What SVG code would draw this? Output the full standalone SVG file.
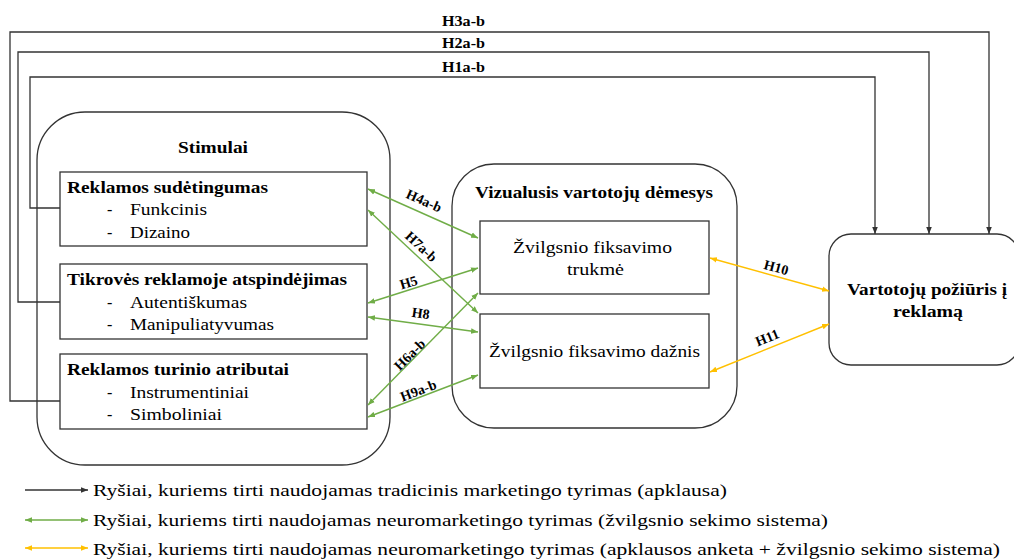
<svg xmlns="http://www.w3.org/2000/svg" width="1014" height="560" viewBox="0 0 1014 560">
<style>
text{font-family:"Liberation Serif","DejaVu Serif","Noto Serif",serif;fill:#000}
.b{font-weight:bold}
.t{font-size:16px}
.h{font-size:14px;font-weight:bold}
.lg{font-size:16.5px}
.box{fill:#fff;stroke:#333;stroke-width:1.3}
.grp{fill:#fff;stroke:#333;stroke-width:1.3}
.k{fill:none;stroke:#333;stroke-width:1.3}
.g{fill:none;stroke:#70AD47;stroke-width:1.4}
.y{fill:none;stroke:#FFC000;stroke-width:1.4}
</style>
<defs>
<marker id="ak" viewBox="0 0 10 10" refX="10" refY="5" markerWidth="7" markerHeight="7" markerUnits="userSpaceOnUse" orient="auto-start-reverse"><path d="M0,1 L10,5 L0,9 z" fill="#333"/></marker>
<marker id="ag" viewBox="0 0 10 10" refX="10" refY="5" markerWidth="7" markerHeight="7" markerUnits="userSpaceOnUse" orient="auto-start-reverse"><path d="M0,1 L10,5 L0,9 z" fill="#70AD47"/></marker>
<marker id="ay" viewBox="0 0 10 10" refX="10" refY="5" markerWidth="7" markerHeight="7" markerUnits="userSpaceOnUse" orient="auto-start-reverse"><path d="M0,1 L10,5 L0,9 z" fill="#FFC000"/></marker>
</defs>

<g id="stimulai">
<rect class="grp" x="37" y="112" width="353" height="353" rx="48"/>
<text class="t b" x="178" y="153" textLength="70" lengthAdjust="spacingAndGlyphs">Stimulai</text>
</g>
<g id="vizualusis">
<rect class="grp" x="452" y="164" width="285" height="264" rx="42"/>
<text class="t b" x="475" y="198" textLength="238" lengthAdjust="spacingAndGlyphs">Vizualusis vartotojų dėmesys</text>
</g>

<g id="reklamos-sudetingumas">
<rect class="box" x="60" y="172" width="307" height="74"/>
<text class="t b" x="67" y="193" textLength="201" lengthAdjust="spacingAndGlyphs">Reklamos sudėtingumas</text>
<text class="t" x="107" y="215">-</text><text class="t" x="130" y="215" textLength="77" lengthAdjust="spacingAndGlyphs">Funkcinis</text>
<text class="t" x="107" y="238">-</text><text class="t" x="130" y="238" textLength="60" lengthAdjust="spacingAndGlyphs">Dizaino</text>
</g>
<g id="tikroves">
<rect class="box" x="60" y="264" width="307" height="75"/>
<text class="t b" x="67" y="285" textLength="280" lengthAdjust="spacingAndGlyphs">Tikrovės reklamoje atspindėjimas</text>
<text class="t" x="107" y="308">-</text><text class="t" x="130" y="308" textLength="117" lengthAdjust="spacingAndGlyphs">Autentiškumas</text>
<text class="t" x="107" y="330">-</text><text class="t" x="130" y="330" textLength="144" lengthAdjust="spacingAndGlyphs">Manipuliatyvumas</text>
</g>
<g id="turinio-atributai">
<rect class="box" x="60" y="354" width="307" height="75"/>
<text class="t b" x="67" y="375" textLength="222" lengthAdjust="spacingAndGlyphs">Reklamos turinio atributai</text>
<text class="t" x="107" y="398">-</text><text class="t" x="130" y="398" textLength="119" lengthAdjust="spacingAndGlyphs">Instrumentiniai</text>
<text class="t" x="107" y="420">-</text><text class="t" x="130" y="420" textLength="92" lengthAdjust="spacingAndGlyphs">Simboliniai</text>
</g>

<g id="trukme">
<rect class="box" x="480" y="221" width="229" height="73"/>
<text class="t" x="513" y="253" textLength="159" lengthAdjust="spacingAndGlyphs">Žvilgsnio fiksavimo</text>
<text class="t" x="567" y="275" textLength="57" lengthAdjust="spacingAndGlyphs">trukmė</text>
</g>
<g id="daznis">
<rect class="box" x="480" y="314" width="229" height="74"/>
<text class="t" x="489" y="357" textLength="211" lengthAdjust="spacingAndGlyphs">Žvilgsnio fiksavimo dažnis</text>
</g>
<g id="poziuris">
<rect class="box" x="829" y="234" width="190" height="131" rx="22"/>
<text class="t b" x="847" y="295" textLength="160" lengthAdjust="spacingAndGlyphs">Vartotojų požiūris į</text>
<text class="t b" x="893" y="317" textLength="70" lengthAdjust="spacingAndGlyphs">reklamą</text>
</g>

<g id="connectors">
<path class="k" d="M60,208 H30 V77 H875 V234" marker-end="url(#ak)"/>
<path class="k" d="M60,302 H18 V52 H929 V234" marker-end="url(#ak)"/>
<path class="k" d="M60,401 H10 V32 H989 V234" marker-end="url(#ak)"/>
<text class="h" x="442" y="26" textLength="43" lengthAdjust="spacingAndGlyphs">H3a-b</text>
<text class="h" x="442" y="48" textLength="43" lengthAdjust="spacingAndGlyphs">H2a-b</text>
<text class="h" x="442" y="72" textLength="43" lengthAdjust="spacingAndGlyphs">H1a-b</text>

<line class="g" x1="368" y1="189" x2="478" y2="238" marker-start="url(#ag)" marker-end="url(#ag)"/>
<line class="g" x1="368" y1="210" x2="478" y2="313" marker-start="url(#ag)" marker-end="url(#ag)"/>
<line class="g" x1="368" y1="303" x2="478" y2="268" marker-start="url(#ag)" marker-end="url(#ag)"/>
<line class="g" x1="368" y1="317" x2="478" y2="332" marker-start="url(#ag)" marker-end="url(#ag)"/>
<line class="g" x1="368" y1="405" x2="478" y2="293" marker-start="url(#ag)" marker-end="url(#ag)"/>
<line class="g" x1="368" y1="417" x2="478" y2="375" marker-start="url(#ag)" marker-end="url(#ag)"/>
<text class="h" transform="translate(422,205) rotate(24)" text-anchor="middle">H4a-b</text>
<text class="h" transform="translate(418,250) rotate(43)" text-anchor="middle">H7a-b</text>
<text class="h" transform="translate(410,287) rotate(-17)" text-anchor="middle">H5</text>
<text class="h" transform="translate(420,318) rotate(8)" text-anchor="middle">H8</text>
<text class="h" transform="translate(413,358) rotate(-45)" text-anchor="middle">H6a-b</text>
<text class="h" transform="translate(420,395) rotate(-21)" text-anchor="middle">H9a-b</text>

<line class="y" x1="710" y1="258" x2="829" y2="291" marker-start="url(#ay)" marker-end="url(#ay)"/>
<line class="y" x1="710" y1="372" x2="829" y2="324" marker-start="url(#ay)" marker-end="url(#ay)"/>
<text class="h" transform="translate(775,272) rotate(15)" text-anchor="middle">H10</text>
<text class="h" transform="translate(769,342) rotate(-22)" text-anchor="middle">H11</text>
</g>

<g id="legend">
<line class="k" x1="25" y1="490" x2="88" y2="490" marker-end="url(#ak)"/>
<line class="g" x1="25" y1="520" x2="88" y2="520" marker-start="url(#ag)" marker-end="url(#ag)"/>
<line class="y" x1="25" y1="548" x2="88" y2="548" marker-start="url(#ay)" marker-end="url(#ay)"/>
<text class="lg" x="93" y="496" textLength="634" lengthAdjust="spacingAndGlyphs">Ryšiai, kuriems tirti naudojamas tradicinis marketingo tyrimas (apklausa)</text>
<text class="lg" x="93" y="526" textLength="735" lengthAdjust="spacingAndGlyphs">Ryšiai, kuriems tirti naudojamas neuromarketingo tyrimas (žvilgsnio sekimo sistema)</text>
<text class="lg" x="93" y="555" textLength="907" lengthAdjust="spacingAndGlyphs">Ryšiai, kuriems tirti naudojamas neuromarketingo tyrimas (apklausos anketa + žvilgsnio sekimo sistema)</text>
</g>
</svg>
